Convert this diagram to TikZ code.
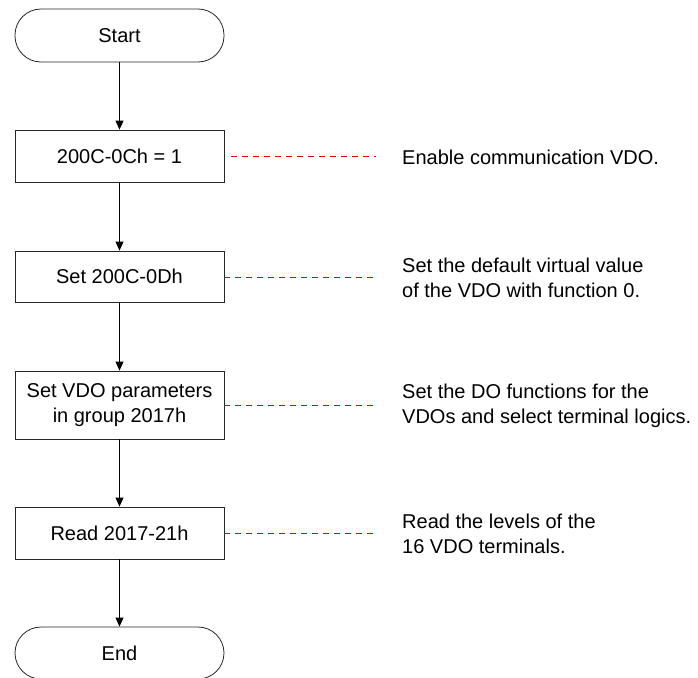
\documentclass[tikz,border=0pt]{standalone}
\usepackage{fontspec}
\setmainfont{Liberation Sans}
\usetikzlibrary{arrows.meta}
\begin{document}
\begin{tikzpicture}[x=1pt,y=-1pt,
  every node/.style={font=\fontsize{20}{24.5}\selectfont},
  stepbox/.style={draw=black!85, line width=0.8pt, minimum width=209pt, inner sep=0pt, align=center},
  termbox/.style={stepbox, rounded corners=26pt},
  flow/.style={draw=black, line width=0.8pt, -{Triangle[length=9pt,width=8pt]}},
  note/.style={draw=red!90!black, line width=0.8pt, dash pattern=on 6pt off 5pt},
  notetext/.style={anchor=west, inner sep=0pt, align=left}]
\useasboundingbox (0,0) rectangle (698,677);
\node[termbox, minimum height=53pt] (start) at (119.5,35.5) {Start};
\node[stepbox, minimum height=52pt] (b1) at (119.5,156) {200C-0Ch = 1};
\node[stepbox, minimum height=51pt] (b2) at (119.5,276.5) {Set 200C-0Dh};
\node[stepbox, minimum height=68pt] (b3) at (119.5,405) {Set VDO parameters\\in group 2017h};
\node[stepbox, minimum height=52pt] (b4) at (119.5,533) {Read 2017-21h};
\node[termbox, minimum height=52pt] (end) at (119.5,653) {End};

\node[notetext] (t1) at (402,157) {Enable communication VDO.};
\node[notetext] (t2) at (402,278) {Set the default virtual value\\of the VDO with function 0.};
\node[notetext] (t3) at (402,406) {Set the DO functions for the\\VDOs and select terminal logics.};
\node[notetext] (t4) at (402,534) {Read the levels of the\\16 VDO terminals.};

\draw[flow] (start) -- (b1);
\draw[flow] (b1) -- (b2);
\draw[flow] (b2) -- (b3);
\draw[flow] (b3) -- (b4);
\draw[flow] (b4) -- (end);

\coordinate (e1) at (376,156);
\coordinate (e2) at (376,277);
\coordinate (e3) at (376,405);
\coordinate (e4) at (376,533);
\draw[note, shorten <=7pt] (b1.east |- e1) -- (e1);
\draw[note] (b2.east |- e2) -- (e2);
\draw[note] (b3.east |- e3) -- (e3);
\draw[note] (b4.east |- e4) -- (e4);
\end{tikzpicture}
\end{document}
